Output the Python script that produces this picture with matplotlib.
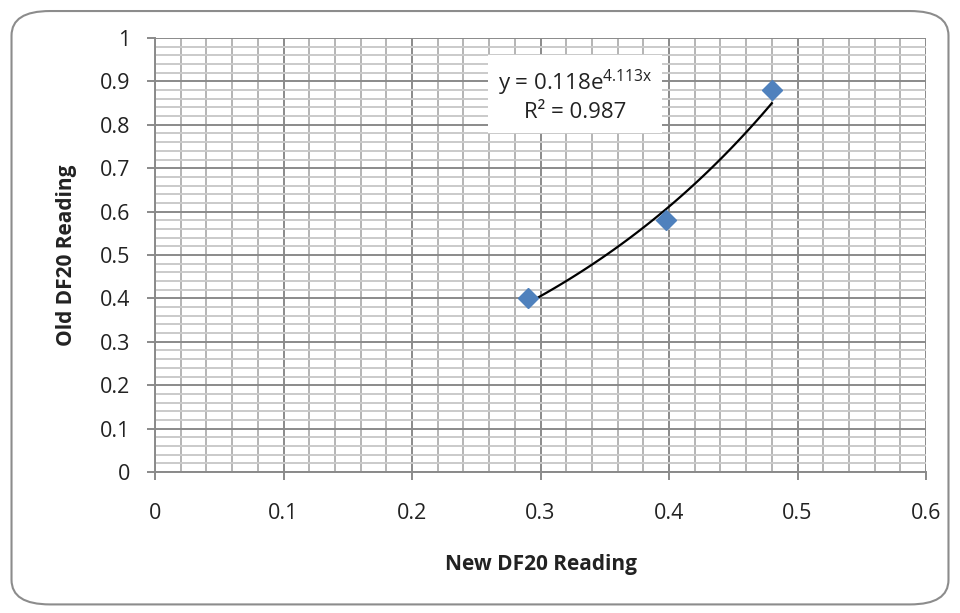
import numpy as np
import matplotlib
matplotlib.use("Agg")
from matplotlib import pyplot as plt
from matplotlib.patches import FancyBboxPatch
from matplotlib.ticker import MultipleLocator

plt.rcParams['font.family'] = ['Open Sans', 'DejaVu Sans']

# readings
new_df20 = [0.29, 0.398, 0.48]
old_df20 = [0.40, 0.58, 0.88]

# exponential trendline y = a * exp(b x)
fit_a = 0.118
fit_b = 4.113
r_squared = 0.987

fig = plt.figure(figsize=(9.6, 6.13), dpi=100)

# rounded chart border
border = FancyBboxPatch((0.012, 0.014), 0.976, 0.968,
                        boxstyle="round,pad=0,rounding_size=0.04",
                        transform=fig.transFigure, facecolor='none',
                        edgecolor='#8c8c8c', linewidth=1.5, zorder=-1)
fig.patches.append(border)

ax = fig.add_axes([0.1615, 0.2300, 0.8031, 0.7080])
ax.set_xlim(0, 0.6)
ax.set_ylim(0, 1)

ax.xaxis.set_major_locator(MultipleLocator(0.1))
ax.xaxis.set_minor_locator(MultipleLocator(0.02))
ax.yaxis.set_major_locator(MultipleLocator(0.1))
ax.yaxis.set_minor_locator(MultipleLocator(0.02))

ax.grid(which='major', color='#8a8a8a', linewidth=1.4)
ax.grid(which='minor', axis='x', color='#b4b4b4', linewidth=1.4)
ax.grid(which='minor', axis='y', color='#cacaca', linewidth=1.4)
ax.set_axisbelow(True)

for side in ['top', 'right']:
    ax.spines[side].set_visible(False)
for side in ['left', 'bottom']:
    ax.spines[side].set_color('#8a8a8a')
    ax.spines[side].set_linewidth(1.4)

ax.tick_params(which='major', direction='out', length=6, color='#8a8a8a',
               width=1.4, labelsize=15.5, labelcolor='#222222')
ax.tick_params(axis='x', which='major', pad=16)
ax.tick_params(axis='y', which='major', pad=12)
ax.tick_params(which='minor', length=0)
ax.set_xticks(np.arange(0, 0.61, 0.1))
ax.set_xticklabels(['0', '0.1', '0.2', '0.3', '0.4', '0.5', '0.6'])
ax.set_yticks(np.arange(0, 1.01, 0.1))
ax.set_yticklabels(['0', '0.1', '0.2', '0.3', '0.4', '0.5', '0.6', '0.7', '0.8', '0.9', '1'])

xs = np.linspace(min(new_df20), max(new_df20), 100)
ax.plot(xs, fit_a * np.exp(fit_b * xs), color='black', linewidth=1.6, zorder=3)
ax.plot(new_df20, old_df20, linestyle='none', marker='D', markersize=10.5,
        color='#4f81bd', markeredgecolor='#4f81bd', zorder=4)

ax.text(0.327, 0.868,
        f"y = {fit_a}e$^{{\\mathregular{{{fit_b}x}}}}$\nR² = {r_squared}",
        ha='center', va='center', fontsize=16, linespacing=1.25,
        color='#222222',
        bbox=dict(facecolor='white', edgecolor='none', pad=7), zorder=5)

ax.set_xlabel('New DF20 Reading', fontsize=15, fontweight='bold', labelpad=22,
              color='#222222')
ax.set_ylabel('Old DF20 Reading', fontsize=15, fontweight='bold', labelpad=16,
              color='#222222')

fig.savefig('out.png', dpi=100)
